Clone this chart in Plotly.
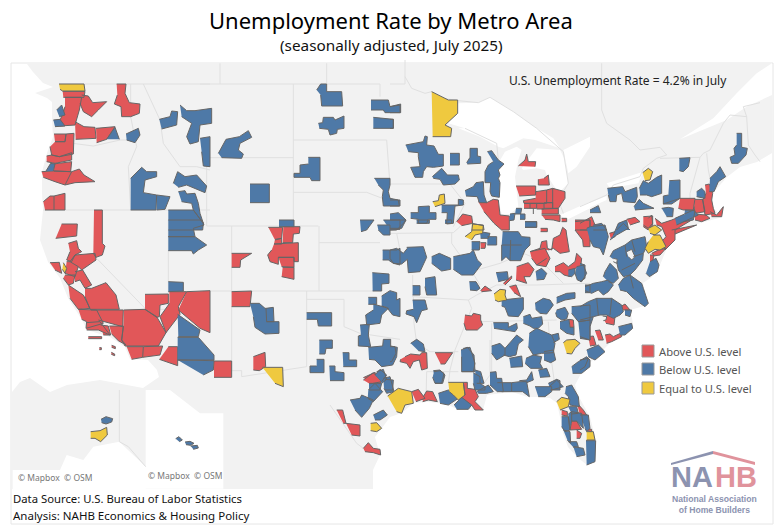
import plotly.graph_objects as go

# crop origins: every outline below is read in crop units (3 per picture pixel)
NW = (10, 60)
SW = (10, 220)
NC = (200, 60)
SC = (200, 220)
GL = (390, 60)
MS = (390, 220)
NE = (580, 60)
SE = (580, 220)
GF = (330, 340)
AK = (0, 390)

NW_ABOVE = [
    [158,94,225,94,222,112,160,112],
    [165,112,215,112,208,150,195,195,150,198,150,180,157,165,165,140],
    [215,105,235,108,248,128,290,125,265,150,245,170,220,155,210,130],
    [320,72,348,72,345,100,358,128,390,132,388,160,362,170,335,170,333,140,313,132,322,105],
    [195,185,222,200,255,202,258,235,197,238],
    [258,205,305,202,315,200,290,238,260,248],
    [132,222,168,222,165,245,135,245],
    [135,245,165,245,168,222,192,220,190,282,148,290,125,285,120,260],
    [110,288,125,285,148,290,185,278,185,300,135,310,110,305],
    [130,312,185,305,182,335,132,333],
    [95,335,130,333,185,335,165,375,135,365,100,352],
    [185,335,208,327,222,345,255,365,195,368,165,375],
    [100,425,120,408,132,408,132,450,105,450],
    [132,408,165,400,165,450,132,450],
]
NW_BELOW = [
    [290,238,315,202,328,238],
    [348,222,385,205,390,225,375,248,350,240],
    [140,150,155,135,165,165,148,170],
    [130,180,150,178,165,198,135,200],
    [108,333,122,310,135,312,130,333],
    [362,355,395,322,410,335,440,335,440,350,405,360,400,398,440,405,438,450,362,450],
    [440,405,480,410,465,448,440,450],
    [490,370,503,335,525,350,560,345,590,378,585,398,530,375,505,382],
    [448,178,480,170,485,153,503,155,500,195,455,207],
    [510,135,530,152,555,152,605,145,605,190,570,195,565,245,540,252,530,230,545,190,515,170],
    [570,235,600,230,600,320,580,318,575,275],
    [505,395,525,392,530,402,555,400,565,430,570,460,580,490,550,450,545,430,515,425],
    [475,450,550,450,580,490,578,510,475,510],
]
NW_EQUAL = [
    [147,72,222,72,225,93,158,93,150,88],
]

SW_ABOVE = [
    [155,12,202,12,200,48,137,55],
    [252,-30,277,-30,277,70,285,78,277,105,258,112,250,100],
    [175,70,200,62,205,85,215,95,195,105,185,125,170,120,180,95],
    [180,125,195,105,255,100,258,120,215,150,205,140],
    [120,128,148,127,155,160,135,150],
    [170,125,180,125,205,140,195,170,165,160],
    [195,155,218,150,245,195,225,205,210,180,195,185],
    [165,165,195,165,190,190,175,195,160,175],
    [175,195,205,215,220,225,240,265,205,268,180,235],
    [225,205,245,205,288,188,318,225,328,268,240,268,225,230],
    [205,268,260,270,280,310,228,325,230,305,215,298],
    [243,270,340,270,338,320,265,300],
    [228,308,270,305,300,345,265,330,230,330],
    [272,315,295,318,302,345,280,345],
    [342,270,405,268,440,290,468,338,445,378,345,378,335,360,340,320],
    [298,318,340,318,335,360,348,375,325,362,305,342],
    [350,380,400,380,398,412,365,418],
    [400,380,458,378,450,405,398,412],
    [475,380,503,380,503,437,448,418],
    [405,223,475,222,475,250,450,255,448,290,440,292,405,268],
    [478,215,530,215,505,260,510,283,468,338,450,290,475,255,478,250],
    [530,215,600,212,600,338,570,325,505,270],
    [235,350,275,350,275,356,235,356],
    [268,383,274,383,274,389,268,389],
    [305,376,316,380,316,386,305,382],
    [304,397,314,402,314,407,304,403],
]
SW_BELOW = [
    [503,283,570,330,565,350,505,350],
    [503,352,565,352,612,405,612,420,503,420],
    [503,420,612,422,610,450,580,465],
    [475,185,520,187,520,213,475,215],
    [475,0,575,0,582,15,550,25,555,50,475,50],
    [475,50,555,50,590,75,565,90,550,102,545,92,475,92],
]
SW_EQUAL = [
    [160,128,170,145,165,160,157,148],
]

NC_BELOW = [
    [55,280,78,238,118,230,145,212,155,232,120,250,115,270,130,282,125,295,65,293],
    [150,372,208,372,208,428,150,428],
    [350,90,362,72,380,72,380,95,425,95,428,138,365,138,362,105],
    [355,190,368,188,370,172,400,172,405,180,432,168,432,205,412,208,410,220,390,225,385,208,358,205],
    [513,120,565,120,570,140,600,135,600,158,555,158,550,150,513,150],
    [520,172,580,178,580,205,520,205],
    [325,292,360,292,360,362,335,362,330,352,282,352,282,340,300,340,300,315,325,312],
    [523,355,570,355,570,375,565,395,570,415,595,420,598,438,550,438,547,410,550,390,535,375],
]

SC_ABOVE = [
    [205,22,248,22,245,55,225,60],
    [250,20,300,20,298,40,280,42,278,68,248,68],
    [225,58,245,55,245,72,222,72],
    [222,72,295,68,295,125,282,125,282,112,235,112,235,133,210,125,203,105,215,90],
    [235,112,282,112,282,142,245,140],
    [248,142,282,142,282,178,245,170],
    [95,100,155,100,122,120,120,142,95,142],
    [95,215,155,213,150,260,95,260],
    [160,410,195,397,197,440,178,452,160,450],
    [42,423,95,423,95,472,42,472],
    [490,480,520,458,545,485,510,492],
]
SC_BELOW = [
    [237,0,282,0,282,20,237,20],
    [150,250,178,250,195,265,198,265,200,305,222,305,237,305,237,340,195,342,165,322,160,290],
    [198,265,220,262,222,305,200,305],
    [320,278,395,278,395,318,355,318,352,298,320,298],
    [358,360,397,360,397,385,378,385,375,402,358,402],
    [428,398,447,398,447,420,470,420,470,440,430,440],
    [350,418,372,418,372,458,330,458,330,438,350,438],
    [388,438,405,438,405,455,432,458,432,482,390,482],
    [517,158,567,162,567,190,545,192,545,213,518,213],
    [505,232,530,232,530,253,505,253],
    [545,228,570,212,590,218,590,240,600,235,600,290,578,285,560,262,545,258],
    [520,252,545,258,565,265,545,285,540,310,500,315,497,285,520,270],
    [480,315,508,313,505,345,512,380,475,378,475,348,483,345],
    [505,382,548,378,550,358,572,358,572,378,592,382,590,410,578,435,545,440,525,420,507,418],
    [530,455,550,448,560,478,545,490],
    [507,490,545,490,540,510,507,510],
    [555,478,580,480,578,510,555,510],
    [480,0,522,0,500,30,483,35],
    [532,15,570,15,570,45,550,45,535,30],
    [550,0,600,0,600,28,570,30],
    [548,90,590,90,600,85,600,135,580,130,565,120,548,120],
]
SC_EQUAL = [
    [187,442,248,442,250,500,225,490],
]

GL_ABOVE = [
    [385,318,405,300,410,282,415,305,437,305,435,320],
    [378,378,437,378,437,405,388,408],
    [437,395,470,390,470,430,402,430,400,422,437,415],
    [402,430,420,430,420,445,402,445],
    [420,430,440,430,440,445,420,445],
    [440,430,462,430,462,447,440,447],
    [462,428,488,428,488,445,462,445],
    [488,385,525,395,525,415,505,445,488,445,488,428],
    [462,355,475,345,478,375,462,375,445,375,445,358],
    [470,390,488,385,488,428,470,428],
    [455,447,505,445,505,462,455,462],
    [265,425,290,428,310,418,325,420,330,465,358,468,358,510,335,510,312,490,282,455],
    [200,485,218,462,245,468,248,490,215,497],
    [455,465,510,465,510,485,490,480,465,478],
    [515,475,530,475,530,485,515,485],
    [555,485,600,480,600,510,555,510],
]
GL_BELOW = [
    [0,140,32,132,32,158,0,158],
    [0,178,10,178,10,205,0,205],
    [47,255,100,245,105,228,112,230,110,255,132,258,145,283,160,283,160,318,130,322,110,320,100,335,98,352,75,352,62,322,90,320,85,290,85,278,55,275],
    [127,350,155,325,172,345,205,345,208,360,195,372,160,375,150,358,130,355],
    [180,280,208,280,208,315,180,315],
    [230,308,240,292,240,265,262,265,262,288,272,290,272,310,232,312],
    [292,275,305,272,325,300,342,312,325,330,330,345,325,355,330,368,328,412,305,408,300,395,302,368,285,368,285,335,295,315,310,305],
    [225,392,250,380,258,368,280,365,282,405,290,428,268,428,262,410,228,408],
    [155,435,205,435,205,418,220,420,220,435,195,438,190,490,170,492,172,458,155,458],
    [62,458,85,458,85,440,118,438,118,458,138,458,138,478,115,478,110,490,85,490,85,478,62,475],
    [0,420,30,420,30,438,0,438],
    [0,462,25,458,48,480,40,490,20,510,0,510],
    [360,462,375,460,372,480,358,482],
    [378,445,395,445,392,462,375,462],
    [390,462,405,462,405,478,390,478],
    [405,485,440,485,440,502,405,502],
]
GL_EQUAL = [
    [125,95,150,108,175,120,203,120,203,160,165,195,185,205,182,230,128,230],
    [128,425,145,422,148,405,163,402,165,430,135,440],
    [245,490,280,497,282,510,245,510],
]

MS_ABOVE = [
    [272,68,288,68,285,85,272,85],
    [452,25,472,25,472,35,452,35],
    [420,95,450,85,455,65,470,62,472,85,485,90,490,55,510,45,518,22,528,30,530,45,538,95,510,100,490,85,475,90],
    [420,95,465,85,480,115,468,140,440,135,425,115],
    [380,140,415,128,432,148,420,170,402,170,410,190,378,180],
    [495,140,520,128,535,140,550,130,555,125,560,100,575,115,572,140,555,145,540,170,522,165,510,155,495,155],
    [225,285,245,288,250,280,272,285,272,300,278,315,262,330,228,330,222,310],
    [272,212,285,198,305,212,275,215],
    [340,190,365,168,365,175,345,195],
    [358,200,378,195,392,230,372,218],
    [537,298,550,300,552,322,540,322],
    [135,398,188,398,165,432,152,432],
    [45,410,62,402,90,405,95,398,110,398,112,445,95,450,88,420,70,425,60,445,50,430,30,425,32,418],
    [555,0,600,0,600,80,580,80,578,60,555,30],
]
MS_BELOW = [
    [0,0,48,0,35,25,0,25],
    [80,0,118,0,118,10,80,10],
    [165,0,185,0,185,10,165,10],
    [270,35,300,40,295,55,272,55],
    [245,65,270,65,268,90,245,90],
    [292,50,320,50,320,75,292,75],
    [405,5,440,5,440,22,405,22],
    [338,35,385,35,395,50,420,52,420,75,405,90,392,122,360,122,348,110,335,122,335,75],
    [50,82,100,80,110,112,90,155,55,158,52,118,35,132,10,130,0,115,0,90,20,85,40,100,52,85],
    [125,110,148,100,182,115,182,148,155,153,125,130],
    [190,110,240,100,250,90,262,120,275,132,250,165,215,165,190,148],
    [68,197,90,197,90,225,68,225],
    [105,175,135,170,140,225,110,225,105,200],
    [68,240,105,240,112,268,95,272,80,308,72,290,48,282,50,272,70,268],
    [238,185,258,185,270,205,260,212,240,210],
    [318,158,352,155,355,178,325,185],
    [335,240,400,233,400,268,385,290,355,288,345,262,335,258],
    [437,155,455,145,470,160,462,178,440,180],
    [535,150,555,145,555,160,545,170,535,168],
    [560,140,580,135,590,160,575,185,562,180,555,160],
    [585,195,600,195,600,218,585,218],
    [435,250,460,235,480,240,490,255,470,282,450,280,437,268],
    [500,232,530,220,555,218,555,235,525,240,500,250],
    [500,270,525,262,535,280,530,297,515,300,500,290,497,278],
    [545,260,600,255,600,300,565,305,545,280],
    [510,305,537,298,540,322,552,322,552,345,530,340,510,325],
    [565,305,600,300,600,360,570,355],
    [400,290,420,283,425,295,455,290,458,312,445,325,430,325,420,318,400,310],
    [310,308,355,308,355,322,380,310,382,325,375,335,312,325],
    [418,340,440,325,485,345,495,370,490,398,455,400,430,405,415,380],
    [485,345,505,340,508,358,490,368],
    [545,440,565,425,590,410,600,420,600,440,575,460,548,460],
    [305,378,330,370,345,385,345,405,320,420,305,400],
    [345,385,380,345,400,360,385,372,378,405,358,410,340,405],
    [358,415,395,408,398,440,362,442],
    [408,415,430,405,455,410,450,430,458,445,422,445,405,430],
    [462,395,490,390,497,420,482,428,462,420],
    [445,450,470,445,480,470,450,472],
    [475,490,500,478,510,482,510,510,480,510],
    [0,380,15,380,18,400,5,425,0,425],
    [62,370,80,358,100,372,105,395,85,392],
    [130,452,150,450,165,465,158,490,135,490],
    [213,390,232,382,252,405,255,455,215,455],
    [250,458,270,470,270,490,285,500,285,510,255,510,250,490],
]
MS_EQUAL = [
    [225,50,245,35,248,12,280,15,278,40,255,45,245,60],
    [312,222,330,208,347,210,345,225,350,240,325,245,315,240],
    [520,368,530,360,555,358,570,370,555,385,545,402,530,400],
]

GF_ABOVE = [
    [400,127,412,127,412,145,435,148,445,170,435,185,460,210,435,210,425,195,395,180,380,165,405,165],
    [245,155,265,148,285,175,258,185],
    [280,170,290,153,308,155,322,185,295,180,278,185],
    [100,113,135,97,155,125,145,135],
    [20,210,38,210,48,250,40,250],
    [48,250,90,255,90,288,65,285],
    [100,325,115,308,130,325,150,328,152,345,130,338,105,335],
    [740,188,760,210,770,225,750,225],
    [725,243,740,243,755,268,720,270],
    [740,270,755,280,750,295,740,295],
    [695,210,712,215,712,228,695,225],
    [768,265,785,268,785,275,768,272],
]
GF_BELOW = [
    [372,195,395,172,425,195,415,208,380,208],
    [325,160,355,150,365,155,385,175,355,195,330,190],
    [60,180,90,175,95,165,130,180,118,205,95,232,75,210],
    [115,150,135,130,158,155,130,185,113,175],
    [160,115,180,110,192,155,170,160,162,145],
    [135,105,150,88,170,105,155,125],
    [130,225,160,210,172,225,150,240,135,240],
    [440,155,475,135,490,155,470,160,445,160],
    [480,97,498,95,500,115,515,115,520,155,502,155,480,135],
    [502,128,545,128,545,155,515,155],
    [545,128,570,125,590,125,598,170,578,155,545,155],
    [568,122,590,120,605,95,610,120,590,128],
    [400,25,420,22,435,70,430,95,395,95,395,50],
    [435,90,452,95,462,130,440,130],
    [312,95,330,92,342,100,335,130,315,130,308,112],
    [615,140,665,140,665,155,645,170,625,170],
    [658,140,680,120,700,140,665,150],
    [708,140,725,135,745,170,748,200,720,195,715,170,705,160],
    [695,230,715,230,720,270,705,275,695,260],
    [715,222,725,215,725,243,720,270,715,230],
    [725,215,755,220,760,265,740,243,725,243],
    [700,270,720,275,722,310,712,300],
    [715,200,740,200,745,220,725,222],
    [750,225,775,225,780,265,770,275,765,265],
    [768,302,797,302,795,365,770,375],
    [730,320,760,325,765,345,740,350],
    [715,305,740,305,745,320,730,322],
]
GF_EQUAL = [
    [355,127,400,127,405,165,385,180,370,165,358,155],
    [173,168,205,145,245,155,250,190,225,195,215,220,200,215],
    [122,250,140,248,155,265,140,275,122,272],
    [680,185,695,172,720,178,715,200,690,210],
    [770,275,790,275,795,300,770,300],
]

NE_ABOVE = [
    [300,415,345,415,340,450,310,450,295,445],
    [345,418,368,418,375,455,345,460,342,440],
    [375,375,388,372,398,400,395,420,400,445,405,460,375,465,368,420,378,400],
    [345,462,378,465,390,475,365,485,345,480],
    [390,455,410,465,430,440,425,470,395,470],
    [140,478,165,472,180,485,150,495],
    [190,470,218,468,218,495,205,510,190,500],
    [0,490,35,470,45,495,30,510,0,510],
]
NE_BELOW = [
    [470,220,485,220,485,262,502,265,498,285,475,310,455,310,450,292,465,285,462,265,470,255],
    [298,295,330,293,325,320,310,335,298,332],
    [390,355,410,335,420,320,437,350,415,365,402,395,388,395],
    [268,362,300,360,300,415,275,432,250,432,250,408,265,405],
    [178,385,190,362,205,370,230,352,245,345,245,400,215,410,200,405,180,405],
    [82,385,128,380,135,395,170,382,172,410,165,428,130,425,125,400,110,405,108,425,90,425,85,405],
    [162,440,178,418,190,430,222,445,165,450],
    [30,450,55,437,62,458,30,458],
    [350,395,365,385,375,395,375,415,350,410],
    [245,445,265,442,280,445,278,470,260,470],
    [315,450,345,452,340,480,310,485],
    [40,495,65,490,80,510,40,510],
    [110,510,130,490,150,510],
]
NE_EQUAL = [
    [188,338,205,325,218,335,210,360,195,362],
]

SE_ABOVE = [
    [225,-5,245,10,275,0,295,-8,330,-12,335,0,285,30,285,60,255,90,240,70,258,50,245,20,230,15],
    [205,-5,215,-15,218,10,205,25,190,15],
    [215,100,235,90,258,85,240,105,220,108],
    [210,105,222,105,218,125,210,125],
    [275,30,350,15,285,42],
    [88,40,105,35,105,50,92,55],
    [118,262,135,252,150,270,130,270],
    [72,300,85,282,105,290,102,315,78,310],
    [75,345,90,342,100,350,125,338,125,350,95,365,80,370],
    [45,332,60,330,70,360,55,360],
    [25,350,40,348,48,375,30,378],
]
SE_BELOW = [
    [285,-5,340,-30,355,-15,290,15],
    [20,25,30,20,75,15,85,50,70,105,60,85,40,80,30,60],
    [0,130,15,135,15,175,0,185],
    [100,45,115,10,140,0,145,25,110,45,90,60],
    [210,125,228,115,237,135,232,155,208,170,198,160],
    [90,110,100,92,135,75,155,60,195,50,200,80,190,100,188,120,165,150,150,165,130,170,115,150,110,125],
    [70,170,75,155,90,130,110,150,115,175,100,190,85,185],
    [15,200,40,190,65,185,85,180,100,195,85,215,70,225,55,210,35,220,15,212],
    [115,195,130,175,150,165,185,190,190,205,205,250,195,260,160,235,140,215,120,210],
    [0,260,25,245,50,235,95,235,125,255,130,275,120,285,100,295,80,285,60,285,40,290,30,320,30,360,0,350],
    [135,270,155,270,150,290,135,285],
    [115,320,135,315,155,310,158,325,135,345,120,345],
    [20,390,55,375,75,395,45,420,25,410],
    [0,420,25,415,15,440,0,450],
]
SE_EQUAL = [
    [205,25,225,15,245,30,225,45,210,40],
    [220,45,240,45,258,80,240,90,225,88,205,100,195,85,205,65],
]

AK_BELOW = [
    [303,88,318,80,338,86,335,96,318,102,305,98],
    [527,146,537,140,547,150,538,155],
    [555,156,570,154,582,160,572,166,558,164],
    [572,168,592,166,595,174,580,178],
]
AK_EQUAL = [
    [272,125,300,122,320,112,322,135,302,155,285,145,272,145],
]

ABOVE_AREAS = [(NW, NW_ABOVE), (SW, SW_ABOVE), (SC, SC_ABOVE), (GL, GL_ABOVE),
               (MS, MS_ABOVE), (GF, GF_ABOVE), (NE, NE_ABOVE), (SE, SE_ABOVE)]
BELOW_AREAS = [(NW, NW_BELOW), (SW, SW_BELOW), (NC, NC_BELOW), (SC, SC_BELOW), (GL, GL_BELOW),
               (MS, MS_BELOW), (GF, GF_BELOW), (NE, NE_BELOW), (SE, SE_BELOW), (AK, AK_BELOW)]
EQUAL_AREAS = [(NW, NW_EQUAL), (SW, SW_EQUAL), (SC, SC_EQUAL), (GL, GL_EQUAL),
               (MS, MS_EQUAL), (GF, GF_EQUAL), (NE, NE_EQUAL), (SE, SE_EQUAL), (AK, AK_EQUAL)]

# gaps left open inside the blue masses of the east
GAPS = [
    (SE, [[140,95,155,88,165,110,155,120,145,110]]),
    (SE, [[100,115,112,118,110,130,100,125]]),
    (SE, [[68,288,80,290,78,300,70,302]]),
]

# county lines inside the dense blue and red blocks
DIVIDERS = [
    (SE, [135,75,140,110]),
    (SE, [155,60,165,95]),
    (SE, [190,100,160,110]),
    (SE, [125,150,165,130]),
    (SE, [150,165,160,205]),
    (SE, [50,235,55,285]),
    (SE, [95,235,90,285]),
    (SE, [0,300,40,290]),
    (MS, [360,122,362,60]),
    (MS, [335,75,395,75]),
    (MS, [440,135,470,115]),
    (GF, [400,127,405,165]),
    (NE, [250,432,300,415]),
    (GL, [430,445,430,462]),
]

# oceans in picture pixels, drawn white over the grey land
PACIFIC = [12,64,27,64,33,72,43,83,53,87,35,93,47,98,52,102,52,120,53,137,47,153,45,160,42,172,42,193,43,210,
           42,220,40,240,48,262,60,278,68,298,82,320,87,330,110,337,125,347,130,359,148,360,157,370,159,377,
           147,385,143,388,100,380,67,385,50,392,30,378,20,382,12,392]
ATLANTIC = [373,489,373,470,380,455,375,437,382,428,390,417,402,413,413,403,427,402,438,403,448,405,457,409,
            477,410,483,410,487,395,512,392,528,397,537,397,550,398,557,403,560,417,563,433,568,447,577,457,
            587,465,595,462,596,441,590,417,578,395,575,385,583,370,603,350,613,340,620,335,633,323,630,310,
            648,305,643,283,652,277,660,265,667,248,675,235,700,223,723,217,712,207,713,193,727,177,740,167,
            757,162,772,153,772,489]
# lakes, gulf of St Lawrence and inset seas in crop units
WATER = [
    (GL, [175,190,205,130,265,128,300,112,370,155,440,205,490,235,510,265,435,240,400,235,340,265,325,260,270,230,205,205,225,205]),
    (GL, [325,310,345,275,380,260,395,270,385,300,375,350,385,440,360,462,335,462,325,420,330,345]),
    (GL, [395,325,440,265,510,270,525,300,535,370,505,400,500,390,470,345,465,330,440,325,400,330]),
    (GL, [520,270,600,230,600,260,560,320,535,340]),
    (GL, [510,465,600,425,600,445,530,480]),
    (NE, [0,440,80,408,80,420,0,455]),
    (NE, [80,370,190,335,175,370,90,385]),
    (NE, [300,238,400,175,470,100,530,40,576,10,576,105,500,140,440,180]),
    (AK, [38,240,180,240,200,195,250,210,280,170,358,155,437,230,437,297,38,297]),
    (AK, [437,70,670,70,670,296,437,296]),
    (AK, [437,0,510,0,600,70,437,70]),
]

# light grey state and national borders
BORDERS = [
    (NW, [148,72,600,72]),
    (NC, [0,72,280,72,540,72,540,110]),
    (NC, [60,10,60,72]),
    (NC, [380,10,380,72]),
    (GL, [45,0,45,72,0,72]),
    (GL, [45,50,65,85,105,100,125,95,160,115,205,122,265,128,300,112,370,155,440,205,520,275,535,370,505,420,520,460]),
    (NE, [65,10,65,150,80,190,150,240,180,270,240,262,260,285,230,295,190,325,180,350,100,375,80,405,0,440]),
    (NE, [240,295,360,292,370,280,390,270,430,190,450,165,500,170,490,140,540,128]),
    (NE, [500,170,505,255,525,285,540,305]),
    (NE, [360,292,330,400,330,415]),
    (NE, [380,280,385,330,390,355]),
    (NW, [362,72,362,170,380,260,355,320,362,450]),
    (NW, [400,72,450,180,460,250,510,320,560,320,600,330]),
    (NW, [188,250,250,258,330,240,362,240]),
    (NW, [100,450,600,450]),
    (NC, [20,293,280,293]),
    (NC, [20,293,20,498,355,498]),
    (NC, [280,72,280,498]),
    (NC, [280,240,560,240,570,375]),
    (NC, [280,397,500,397,560,420]),
    (SC, [95,18,95,452,125,452,125,470,320,440,320,213]),
    (SC, [0,213,520,213]),
    (SC, [357,18,357,213]),
    (SC, [357,68,540,68]),
    (SC, [320,238,432,238,432,320,480,340,600,358]),
    (SW, [475,0,475,268,328,268]),
    (SW, [260,115,405,265,470,340]),
    (SW, [475,268,600,268]),
    (MS, [20,40,190,38,210,20,230,0]),
    (MS, [0,40,20,40,30,90]),
    (MS, [68,165,68,230,235,240,260,225,320,195,440,195,600,190]),
    (MS, [70,230,72,310,80,370,120,395,205,395]),
    (MS, [272,305,500,300]),
    (MS, [305,310,305,470]),
    (MS, [235,240,245,265,215,340,195,390,180,450,175,490]),
    (MS, [185,38,185,70,255,170,270,195]),
    (MS, [475,305,480,390,495,500]),
    (MS, [260,150,330,130,400,100,450,120,520,190]),
    (GL, [0,372,180,372,225,430,190,500]),
    (GL, [225,205,320,250,325,300]),
    (GF, [480,0,480,105,440,160]),
    (GF, [290,95,288,180]),
    (GF, [290,95,385,95]),
    (GF, [0,195,60,280,80,310,100,325]),
    (AK, [358,0,358,155,385,170,437,230]),
]

LEGEND_LABELS = ["Above U.S. level", "Below U.S. level", "Equal to U.S. level"]
LEGEND_COLORS = ["#E15759", "#4E79A7", "#EFC93F"]
LEGEND_Y = [351, 369, 388]

ROOF_LEFT = [671, 713, 713, 671]
ROOF_LEFT_Y = [463, 451, 454, 465]
ROOF_RIGHT = [713, 755, 755, 713]
ROOF_RIGHT_Y = [451, 462, 465, 454]


def flatten(groups):
    xs, ys = [], []
    for origin, shapes in groups:
        for shape in shapes:
            xs += [origin[0] + v / 3 for v in shape[0::2]] + [None]
            ys += [origin[1] + v / 3 for v in shape[1::2]] + [None]
    return xs, ys


fig = go.Figure()

# map panel and the white strip under it
fig.add_shape(type="rect", x0=11, y0=63, x1=773, y1=524, fillcolor="white",
              line=dict(color="#e6e6e6", width=1), layer="below")
fig.add_shape(type="rect", x0=12, y0=64, x1=772, y1=489, fillcolor="#f2f2f2",
              line=dict(width=0), layer="below")

x, y = flatten([(o, [s]) for o, s in WATER])
for ocean in [PACIFIC, ATLANTIC]:
    x += ocean[0::2] + [None]
    y += ocean[1::2] + [None]
fig.add_trace(go.Scatter(x=x, y=y, mode="lines", fill="toself", fillcolor="white",
                         line=dict(width=0), hoverinfo="skip"))

x, y = flatten([(o, [s]) for o, s in BORDERS])
fig.add_trace(go.Scatter(x=x, y=y, mode="lines", line=dict(color="#e0e0e0", width=1), hoverinfo="skip"))

for groups, color in zip([ABOVE_AREAS, BELOW_AREAS, EQUAL_AREAS], LEGEND_COLORS):
    x, y = flatten(groups)
    fig.add_trace(go.Scatter(x=x, y=y, mode="lines", fill="toself", fillcolor=color,
                             line=dict(color="#666666", width=1), hoverinfo="skip"))

x, y = flatten(GAPS)
fig.add_trace(go.Scatter(x=x, y=y, mode="lines", fill="toself", fillcolor="#f2f2f2",
                         line=dict(color="#666666", width=1), hoverinfo="skip"))

x, y = flatten([(o, [s]) for o, s in DIVIDERS])
fig.add_trace(go.Scatter(x=x, y=y, mode="lines", line=dict(color="#666666", width=1), hoverinfo="skip"))

# legend swatches
fig.add_trace(go.Scatter(x=[648, 648, 648], y=LEGEND_Y, mode="markers",
                         marker=dict(symbol="square", size=12, color=LEGEND_COLORS,
                                     line=dict(color="#999999", width=1)), hoverinfo="skip"))

# logo roof
fig.add_trace(go.Scatter(x=ROOF_LEFT, y=ROOF_LEFT_Y, mode="lines", fill="toself", fillcolor="#8C93B0",
                         line=dict(width=0), hoverinfo="skip"))
fig.add_trace(go.Scatter(x=ROOF_RIGHT, y=ROOF_RIGHT_Y, mode="lines", fill="toself", fillcolor="#E0939C",
                         line=dict(width=0), hoverinfo="skip"))


def label(px, py, text, size, color="#111111", anchor="left", font="Noto Sans"):
    fig.add_annotation(x=px, y=py, text=text, showarrow=False, xanchor=anchor, yanchor="middle",
                       font=dict(size=size, color=color, family=font))


label(391, 20, "Unemployment Rate by Metro Area", 22, "#000000", "center")
label(391, 45, "(seasonally adjusted, July 2025)", 15.3, "#111111", "center")
label(507, 80, "U.S. Unemployment Rate = 4.2% in July", 12, "#222222")
label(11, 498, "Data Source: U.S. Bureau of Labor Statistics", 11.3)
label(11, 515, "Analysis: NAHB Economics &amp; Housing Policy", 11.5)
label(16, 477, "© Mapbox  © OSM", 8.5, "#777777")
label(146, 475, "© Mapbox  © OSM", 8.5, "#777777")
for name, py in zip(LEGEND_LABELS, LEGEND_Y):
    label(657, py, name, 11.2, "#555555")

label(669, 477, "<b>NA</b>", 29, "#8C93B0", font="Liberation Sans")
label(759, 477, "<b>HB</b>", 29, "#E0939C", "right", font="Liberation Sans")
label(714, 504, "<b>National Association<br>of Home Builders</b>", 8.6, "#8C93B0", "center", font="Liberation Sans")

# star in the logo
fig.add_trace(go.Scatter(x=[702], y=[478], mode="markers",
                         marker=dict(symbol="star", size=8, color="white"), hoverinfo="skip"))

fig.update_layout(
    width=780,
    height=531,
    margin=dict(l=0, r=0, t=0, b=0),
    paper_bgcolor="white",
    plot_bgcolor="white",
    showlegend=False,
    xaxis=dict(range=[0, 780], visible=False, fixedrange=True),
    yaxis=dict(range=[531, 0], visible=False, fixedrange=True),
)

fig.write_html("out.html", config=dict(displayModeBar=False),
               post_script="document.body.style.margin='0';")
